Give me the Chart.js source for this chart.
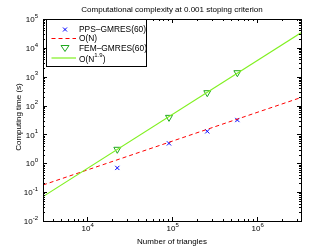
<!DOCTYPE html>
<html>
<head>
<meta charset="utf-8">
<script src="https://cdn.jsdelivr.net/npm/chart.js@4.4.1/dist/chart.umd.min.js"></script>
<style>
  body { margin: 0; background: #fff; }
  #wrap { width: 332px; height: 249px; }
</style>
</head>
<body>
<div id="wrap"><canvas id="chart" width="332" height="249"></canvas></div>
<script>
// Data
const ppsN = [22900, 92900, 262000, 592000];
const ppsTime = [0.69, 4.9, 12.8, 31.6];
const femN = [22900, 92900, 262000, 592000];
const femTime = [3.05, 39, 279, 1377];
const fitN = [3060, 3320000];
const fitLinear = [0.177, 190];
const fitPow = [0.07, 33500];

const xMin = 3060, xMax = 3320000;
const yMin = 0.01, yMax = 100000;
const xDecades = [4, 5, 6];
const yDecades = [-2, -1, 0, 1, 2, 3, 4, 5];

const FONT = 'Liberation Sans, Arial, sans-serif';

function pts(xs, ys) {
    return xs.map((v, i) => ({ x: v, y: ys[i] }));
}

// minor tick values 2..9 x 10^n inside [min, max]
function minorTicks(min, max) {
    const out = [];
    for (let e = Math.floor(Math.log10(min)); e <= Math.ceil(Math.log10(max)); e++) {
        for (let m = 1; m <= 9; m++) {
            const v = m * Math.pow(10, e);
            if (v >= min && v <= max) out.push({ v: v, major: m === 1 });
        }
    }
    return out;
}

function drawPow(ctx, exp, x, y, align) {
    ctx.font = '8px ' + FONT;
    const base = '10';
    const bw = ctx.measureText(base).width;
    ctx.font = '6px ' + FONT;
    const ew = ctx.measureText(String(exp)).width;
    let left;
    if (align === 'right') left = x - bw - ew;
    else left = x - (bw + ew) / 2 + 1;
    ctx.textAlign = 'left';
    ctx.textBaseline = 'middle';
    ctx.font = '8px ' + FONT;
    ctx.fillText(base, left, y);
    ctx.font = '6px ' + FONT;
    ctx.fillText(String(exp), left + bw, y - 4);
}

const matlabAxes = {
    id: 'matlabAxes',
    afterDraw(chart) {
        const ctx = chart.ctx;
        const a = chart.chartArea;
        const xs = chart.scales.x, ys = chart.scales.y;
        ctx.save();
        ctx.strokeStyle = '#000';
        ctx.fillStyle = '#000';
        ctx.lineWidth = 1;

        // inward ticks on all four sides
        ctx.beginPath();
        minorTicks(xMin, xMax).forEach(t => {
            const px = Math.round(xs.getPixelForValue(t.v)) + 0.5;
            const len = t.major ? 4 : 2;
            ctx.moveTo(px, a.bottom); ctx.lineTo(px, a.bottom - len);
            ctx.moveTo(px, a.top); ctx.lineTo(px, a.top + len);
        });
        minorTicks(yMin, yMax).forEach(t => {
            const py = Math.round(ys.getPixelForValue(t.v)) + 0.5;
            const len = t.major ? 4 : 2;
            ctx.moveTo(a.left, py); ctx.lineTo(a.left + len, py);
            ctx.moveTo(a.right, py); ctx.lineTo(a.right - len, py);
        });
        ctx.stroke();

        // box
        ctx.strokeRect(Math.round(a.left) + 0.5, Math.round(a.top) + 0.5,
            Math.round(a.width), Math.round(a.height));

        // tick labels
        yDecades.forEach(e => {
            drawPow(ctx, e, a.left - 5, ys.getPixelForValue(Math.pow(10, e)) + 1, 'right');
        });
        xDecades.forEach(e => {
            drawPow(ctx, e, xs.getPixelForValue(Math.pow(10, e)), a.bottom + 8, 'center');
        });

        // titles
        ctx.font = '8px ' + FONT;
        ctx.textAlign = 'center';
        ctx.textBaseline = 'middle';
        ctx.fillText('Computational complexity at 0.001 stoping criterion', (a.left + a.right) / 2, 10);
        ctx.fillText('Number of triangles', (a.left + a.right) / 2, 242);
        ctx.save();
        ctx.translate(19, 117);
        ctx.rotate(-Math.PI / 2);
        ctx.fillText('Computing time (s)', 0, 0);
        ctx.restore();

        // legend inside plot, top-left
        const lx = 46.5, ly = 19.5, lw = 100, lh = 47;
        ctx.fillStyle = '#fff';
        ctx.fillRect(lx, ly, lw, lh);
        ctx.strokeStyle = '#000';
        ctx.strokeRect(lx, ly, lw, lh);
        const rows = [29.5, 38.5, 48.5, 58];
        const labels = ['PPS\u2013GMRES(60)', 'O(N)', 'FEM\u2013GMRES(60)', 'O(N'];
        ctx.textAlign = 'left';
        ctx.fillStyle = '#000';
        ctx.font = '8.4px ' + FONT;
        labels.forEach((t, i) => ctx.fillText(t, 79, rows[i] + (i === 3 ? 1.5 : 0.5)));
        const w = ctx.measureText('O(N').width;
        ctx.font = '6px ' + FONT;
        ctx.fillText('1.9', 79 + w, rows[3] - 2.5);
        const w2 = ctx.measureText('1.9').width;
        ctx.font = '8.4px ' + FONT;
        ctx.fillText(')', 79 + w + w2, rows[3] + 1.5);

        // legend samples
        ctx.strokeStyle = '#0000ff';
        ctx.beginPath();
        ctx.moveTo(63, rows[0] - 2); ctx.lineTo(67, rows[0] + 2);
        ctx.moveTo(67, rows[0] - 2); ctx.lineTo(63, rows[0] + 2);
        ctx.stroke();
        ctx.strokeStyle = '#ff0000';
        ctx.setLineDash([4, 3]);
        ctx.beginPath(); ctx.moveTo(51.5, rows[1]); ctx.lineTo(76, rows[1]); ctx.stroke();
        ctx.setLineDash([]);
        ctx.strokeStyle = '#1fa81f';
        ctx.beginPath();
        ctx.moveTo(61, rows[2] - 3); ctx.lineTo(69, rows[2] - 3); ctx.lineTo(65, rows[2] + 3); ctx.closePath();
        ctx.stroke();
        ctx.strokeStyle = '#80f020';
        ctx.lineWidth = 1.2;
        ctx.beginPath(); ctx.moveTo(51.5, rows[3]); ctx.lineTo(76, rows[3]); ctx.stroke();
        ctx.restore();
    }
};

new Chart(document.getElementById('chart'), {
    type: 'scatter',
    data: {
        datasets: [
            {
                label: 'O(N^1.9)',
                data: pts(fitN, fitPow),
                showLine: true,
                borderColor: '#80f020',
                borderWidth: 1.2,
                pointRadius: 0
            },
            {
                label: 'O(N)',
                data: pts(fitN, fitLinear),
                showLine: true,
                borderColor: '#ff0000',
                borderWidth: 1,
                borderDash: [4, 3],
                pointRadius: 0
            },
            {
                label: 'FEM-GMRES(60)',
                data: pts(femN, femTime),
                pointStyle: 'triangle',
                rotation: 180,
                pointRadius: 4,
                borderColor: '#1fa81f',
                backgroundColor: 'rgba(0,0,0,0)',
                borderWidth: 1
            },
            {
                label: 'PPS-GMRES(60)',
                data: pts(ppsN, ppsTime),
                pointStyle: 'crossRot',
                pointRadius: 3,
                borderColor: '#0000ff',
                borderWidth: 1
            }
        ]
    },
    options: {
        responsive: false,
        devicePixelRatio: 1,
        animation: false,
        layout: { padding: { left: 43, right: 31, top: 19, bottom: 28 } },
        plugins: {
            legend: { display: false },
            tooltip: { enabled: false }
        },
        scales: {
            x: { type: 'logarithmic', min: xMin, max: xMax, display: false },
            y: { type: 'logarithmic', min: yMin, max: yMax, display: false }
        }
    },
    plugins: [matlabAxes]
});
</script>
</body>
</html>
